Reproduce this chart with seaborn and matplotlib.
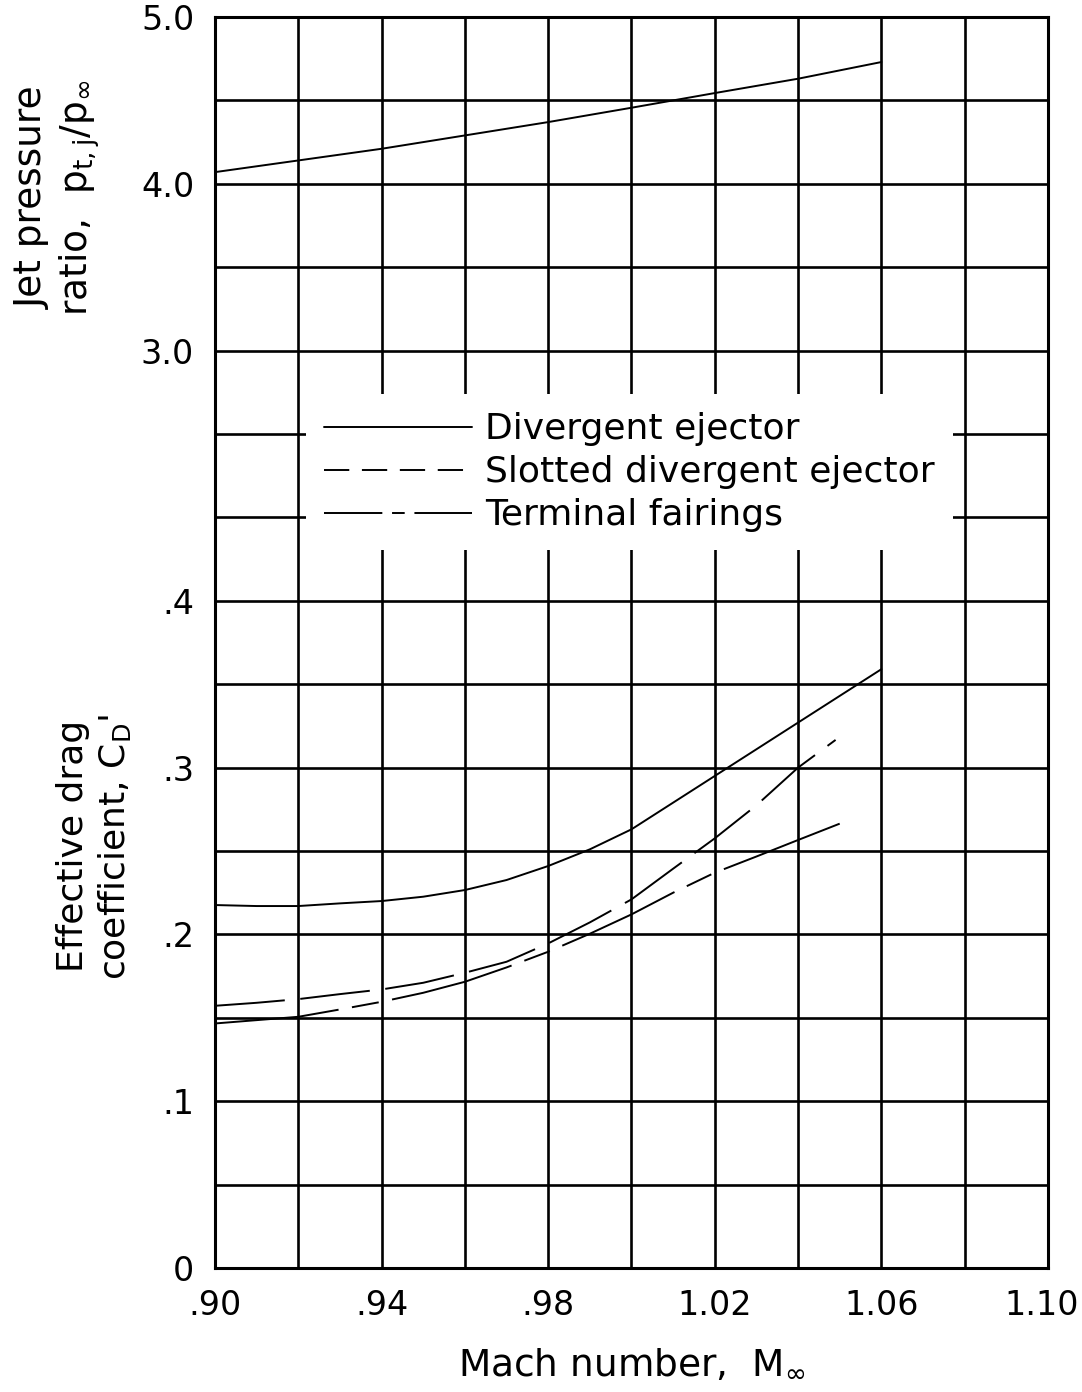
import numpy as np
import pandas as pd
import matplotlib
matplotlib.use("Agg")
import matplotlib.pyplot as plt
from matplotlib.lines import Line2D
from matplotlib.transforms import ScaledTranslation
import seaborn as sns

# Jet pressure ratio vs Mach number (upper panel)
mach_jet = [0.90, 0.92, 0.94, 0.96, 0.98, 1.00, 1.02, 1.04, 1.06]
jet_ratio = [4.07, 4.14, 4.21, 4.29, 4.37, 4.456, 4.544, 4.63, 4.73]

# Effective drag coefficient vs Mach number (lower panel)
mach_div = [0.90, 0.91, 0.92, 0.93, 0.94, 0.95, 0.96, 0.97, 0.98, 0.99,
            1.00, 1.01, 1.02, 1.03, 1.04, 1.05, 1.06]
cd_div = [0.2176, 0.217, 0.217, 0.2186, 0.220, 0.2226, 0.2266, 0.2326, 0.241,
          0.251, 0.263, 0.279, 0.295, 0.311, 0.327, 0.343, 0.359]

mach_slot = [0.90, 0.91, 0.92, 0.93, 0.94, 0.95, 0.96, 0.97, 0.98, 0.99,
             1.00, 1.01, 1.02, 1.03, 1.04, 1.049]
cd_slot = [0.1572, 0.159, 0.1612, 0.1642, 0.167, 0.171, 0.177, 0.1836, 0.1946,
           0.2072, 0.221, 0.2394, 0.2576, 0.2774, 0.300, 0.3166]

mach_term = [0.90, 0.91, 0.92, 0.93, 0.94, 0.95, 0.96, 0.97, 0.98, 0.99,
             1.00, 1.01, 1.02, 1.03, 1.04, 1.05]
cd_term = [0.1466, 0.1486, 0.1506, 0.155, 0.1596, 0.165, 0.1716, 0.1802, 0.1896,
           0.2004, 0.212, 0.225, 0.237, 0.2467, 0.2566, 0.2664]

labels = ["Divergent ejector", "Slotted divergent ejector", "Terminal fairings"]

x_ticks = [0.90, 0.92, 0.94, 0.96, 0.98, 1.00, 1.02, 1.04, 1.06, 1.08, 1.10]
x_ticklabels = [".90", "", ".94", "", ".98", "", "1.02", "", "1.06", "", "1.10"]
cd_ticks = [0.0, 0.05, 0.1, 0.15, 0.2, 0.25, 0.3, 0.35, 0.4, 0.45, 0.5,
            0.55, 0.6, 0.65, 0.7, 0.75]
cd_ticklabels = ["0", "", ".1", "", ".2", "", ".3", "", ".4", "", "", "", "", "", "", ""]
jet_ticks = [3.0, 4.0, 5.0]
jet_ticklabels = ["3.0", "4.0", "5.0"]

sns.set_style("white")
plt.rcParams["font.family"] = ["DejaVu Sans"]
plt.rcParams["mathtext.fontset"] = "dejavusans"
plt.rcParams["mathtext.default"] = "regular"
for k in ["text.color", "axes.labelcolor", "xtick.color", "ytick.color"]:
    plt.rcParams[k] = "black"

LW = 1.4
FS = 24      # tick labels
FS_LAB = 26  # axis titles
FS_LEG = 26

fig = plt.figure(figsize=(10.82, 13.92), dpi=100)
rect = [215 / 1082, 1 - 1268 / 1392, 833 / 1082, 1251 / 1392]
ax = fig.add_axes(rect)

# lower panel curves
sns.lineplot(x=mach_div, y=cd_div, ax=ax, color="black", lw=LW, legend=False)
sns.lineplot(x=mach_slot, y=cd_slot, ax=ax, color="black", lw=LW,
             linestyle=(0, (36, 8)), legend=False)
sns.lineplot(x=mach_term, y=cd_term, ax=ax, color="black", lw=LW,
             linestyle=(0, (64, 7, 14, 7)), legend=False)

ax.set_xlim(0.90, 1.10)
ax.set_ylim(0, 0.75)
ax.set_xticks(x_ticks)
ax.set_xticklabels(x_ticklabels, fontsize=FS)
ax.set_yticks(cd_ticks)
ax.set_yticklabels(cd_ticklabels, fontsize=FS)
ax.tick_params(length=0, pad=15)
ax.grid(True, color="black", lw=1.9)
for s in ax.spines.values():
    s.set_color("black")
    s.set_linewidth(2.2)
ax.set_xlabel("Mach number,  $M_\\infty$", fontsize=FS_LAB + 1)
ax.xaxis.set_label_coords(0.5, -0.062)
ax.set_ylabel("")

# keep the last x label inside the figure
last = ax.get_xticklabels()[-1]
last.set_transform(last.get_transform() + ScaledTranslation(-6 / 100, 0, fig.dpi_scale_trans))

# upper panel on an overlaid axes
ax2 = fig.add_axes(rect, sharex=ax)
ax2.patch.set_visible(False)
sns.lineplot(x=mach_jet, y=jet_ratio, ax=ax2, color="black", lw=LW, legend=False)
ax2.set_ylim(-2.5, 5.0)
ax2.set_yticks(jet_ticks)
ax2.set_yticklabels(jet_ticklabels, fontsize=FS)
ax2.tick_params(axis="y", length=0, pad=15)
ax2.tick_params(axis="x", length=0, labelbottom=False)
for s in ax2.spines.values():
    s.set_visible(False)
ax2.set_xlabel("")
ax2.set_ylabel("")

handles = [
    Line2D([], [], color="black", lw=LW),
    Line2D([], [], color="black", lw=LW, linestyle=(0, (13, 6.5))),
    Line2D([], [], color="black", lw=LW, linestyle=(0, (30, 5, 6.5, 5))),
]
leg = ax.legend(handles, labels, loc="center", bbox_to_anchor=(0.4976, 0.636),
                fontsize=FS_LEG, handlelength=4.1, handletextpad=0.35,
                labelspacing=0.25, borderpad=0.5, fancybox=False,
                framealpha=1, facecolor="white", edgecolor="none")
leg.set_zorder(5)

fig.text(0.054, 0.858, "Jet pressure\nratio,  $p_{t,j}/p_\\infty$", rotation=90,
         ha="center", va="center", fontsize=FS_LAB + 1, multialignment="center")
fig.text(0.087, 0.392, "Effective drag\ncoefficient, $C_D$'", rotation=90,
         ha="center", va="center", fontsize=FS_LAB, multialignment="center")

fig.savefig("out.png", dpi=100, facecolor="white")
